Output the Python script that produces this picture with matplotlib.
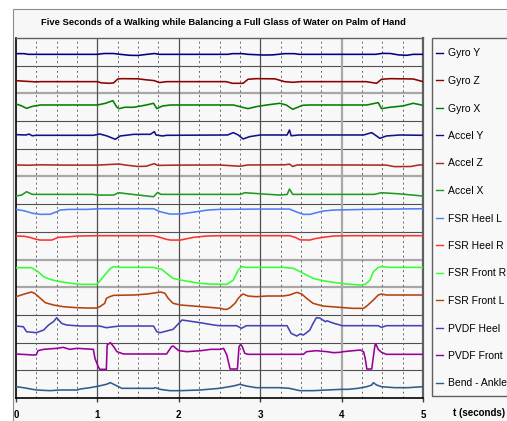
import matplotlib.pyplot as plt
from matplotlib.patches import Rectangle

W, H = 507, 421
plt.rcParams['font.family'] = ['Liberation Sans', 'DejaVu Sans']

title = "Five Seconds of a Walking while Balancing a Full Glass of Water on Palm of Hand"

names = ["Gyro Y", "Gyro Z", "Gyro X", "Accel Y", "Accel Z", "Accel X",
         "FSR Heel L", "FSR Heel R", "FSR Front R", "FSR Front L",
         "PVDF Heel", "PVDF Front", "Bend - Ankle"]
colors = ["#000080", "#8b0000", "#008000", "#10108a", "#a82a2a", "#1f9a1f",
          "#4f7ff5", "#ff3030", "#33ff33", "#b5420d",
          "#4343b8", "#990099", "#2c5d8f"]

# each trace: time (s) and level inside its band (0 = band bottom, 10 = band top)
gyro_y_t = [0, 0.1, 0.15, 1.0, 1.08, 1.2, 1.28, 1.4, 1.5, 1.58, 1.7, 1.76, 2.6, 2.66, 2.78, 2.85,
            3.04, 3.15, 3.22, 3.3, 3.42, 3.48, 4.42, 4.5, 4.6, 4.7, 4.8, 4.88, 5.0]
gyro_y_v = [4.35, 4.35, 4.1, 4.1, 4.4, 4.4, 4.1, 3.75, 3.7, 4.0, 4.4, 4.1, 4.1, 4.35, 4.35, 4.1,
            3.85, 3.9, 4.1, 4.35, 4.35, 4.1, 4.1, 4.45, 4.4, 3.9, 3.75, 4.1, 4.1]

gyro_z_t = [0, 0.1, 0.25, 0.3, 1.0, 1.05, 1.15, 1.2, 1.25, 1.3, 1.5, 1.6, 1.7, 1.76, 1.85,
            2.58, 2.66, 2.79, 2.85, 2.95, 3.18, 3.3, 3.4, 3.5, 4.3, 4.43, 4.49, 4.6, 4.88, 5.0]
gyro_z_v = [4.6, 4.4, 4.15, 4.24, 4.24, 3.8, 3.64, 3.8, 5.2, 5.32, 5.25, 4.9, 4.6, 3.9, 4.24,
            4.24, 3.64, 3.64, 5.1, 5.32, 5.25, 4.24, 4.0, 4.24, 4.24, 3.64, 5.1, 5.32, 5.2, 4.24]

gyro_x_t = [0, 0.06, 0.13, 0.2, 0.3, 1.0, 1.1, 1.19, 1.24, 1.27, 1.33, 1.45, 1.6, 1.69, 1.73, 1.8,
            1.9, 2.67, 2.75, 2.85, 2.95, 3.08, 3.24, 3.32, 3.4, 3.52, 3.6, 4.31, 4.45, 4.49,
            4.59, 4.75, 4.88, 5.0]
gyro_x_v = [6.18, 5.6, 4.6, 5.3, 5.81, 5.81, 6.42, 7.38, 4.97, 4.5, 4.97, 5.0, 5.81, 6.42, 4.5, 5.45,
            5.81, 5.81, 5.21, 4.49, 5.21, 5.81, 6.42, 5.8, 4.25, 5.7, 5.81, 5.81, 6.66, 4.49,
            4.97, 5.45, 6.42, 5.7]

accel_y_t = [0, 0.12, 0.16, 0.2, 0.25, 0.95, 1.03, 1.12, 1.22, 1.28, 1.45, 1.65, 1.70, 1.72, 1.8,
             1.85, 2.6, 2.67, 2.73, 2.79, 2.87, 3.0, 3.33, 3.36, 3.38, 3.48, 4.27, 4.37, 4.47,
             4.55, 4.72, 5.0]
accel_y_v = [5.1, 4.98, 5.3, 4.7, 4.86, 4.86, 5.34, 4.6, 3.42, 4.62, 5.22, 5.22, 6.19, 4.98, 4.62,
             4.86, 4.98, 5.83, 4.98, 3.54, 4.38, 4.98, 4.98, 6.79, 4.7, 4.98, 4.98, 5.83, 3.78,
             4.62, 4.98, 4.86]

accel_z_t = [0, 0.15, 0.3, 0.6, 1.0, 1.2, 1.26, 1.35, 1.5, 1.6, 1.7, 1.74, 2.0, 2.5, 2.75, 2.85,
             3.3, 3.36, 3.4, 3.45, 4.0, 4.55, 4.65, 4.85, 4.95, 5.0]
accel_z_v = [4.15, 4.05, 4.2, 4.1, 4.1, 4.4, 4.5, 4.1, 3.6, 3.7, 4.63, 4.0, 4.1, 4.15, 3.7, 4.15,
             4.2, 4.45, 3.6, 4.15, 4.15, 4.1, 3.55, 3.6, 4.15, 4.15]

accel_x_t = [0, 0.07, 0.13, 0.2, 0.95, 1.0, 1.2, 1.26, 1.36, 1.5, 1.69, 1.74, 1.78, 2.76, 2.81,
             3.07, 3.24, 3.33, 3.36, 3.4, 4.4, 4.49, 4.72, 5.0]
accel_x_v = [2.93, 3.3, 4.49, 3.53, 3.53, 3.29, 3.29, 4.13, 3.77, 3.3, 2.68, 4.25, 3.53, 3.53, 4.13,
             3.6, 3.29, 3.5, 5.45, 3.53, 3.53, 4.13, 3.7, 2.93]

heel_l_t = [0, 0.1, 0.21, 0.3, 0.42, 0.5, 0.54, 0.65, 0.87, 1.03, 1.69, 1.77, 1.89, 2.02, 2.22,
            2.35, 2.5, 3.0, 3.36, 3.45, 3.53, 3.61, 3.69, 3.77, 3.9, 4.3, 5.0]
heel_l_v = [8.11, 7.6, 6.67, 6.31, 6.35, 7.27, 7.87, 8.11, 8.11, 8.35, 8.35, 7.27, 6.43, 6.43, 7.27,
            7.87, 8.11, 8.23, 8.23, 7.15, 6.31, 6.31, 6.91, 7.51, 7.87, 8.11, 8.35]

heel_r_t = [0, 0.1, 0.17, 0.25, 0.3, 0.44, 0.52, 0.66, 0.75, 1.0, 1.69, 1.77, 1.85, 1.9, 2.02,
            2.18, 2.34, 2.5, 3.36, 3.43, 3.49, 3.61, 3.67, 3.77, 3.9, 4.1, 5.0]
heel_r_v = [8.49, 8.4, 8.01, 7.28, 7.04, 7.04, 8.01, 8.25, 8.49, 8.61, 8.61, 8.01, 7.28, 7.04, 7.04,
            8.01, 8.49, 8.61, 8.61, 8.01, 7.1, 7.04, 7.52, 8.01, 8.49, 8.61, 8.61]

front_r_t = [0, 0.19, 0.27, 0.34, 0.42, 0.5, 0.62, 0.75, 0.79, 0.99, 1.03, 1.09, 1.16, 1.2, 1.3,
             1.69, 1.73, 1.79, 1.85, 1.93, 2.02, 2.14, 2.26, 2.38, 2.59, 2.67, 2.73, 2.77, 2.83,
             3.28, 3.41, 3.49, 3.57, 3.65, 3.77, 3.9, 4.06, 4.23, 4.29, 4.35, 4.39, 4.45, 4.49,
             4.6, 5.0]
front_r_v = [7.05, 7.05, 5.61, 3.8, 2.84, 2.24, 1.64, 1.16, 1.04, 1.04, 2.24, 4.41, 6.81, 7.42, 7.17,
             7.17, 6.81, 6.45, 5.01, 3.2, 2.6, 2.0, 1.4, 1.16, 1.04, 2.6, 6.21, 7.42, 7.17,
             7.17, 6.81, 5.61, 4.41, 3.2, 2.36, 1.76, 1.16, 0.79, 1.04, 2.6, 5.61, 7.17, 7.42,
             7.17, 7.17]

front_l_t = [0, 0.13, 0.19, 0.23, 0.3, 0.36, 0.46, 0.58, 0.75, 0.87, 0.99, 1.03, 1.09, 1.11, 1.15,
             1.2, 1.45, 1.61, 1.78, 1.83, 1.87, 1.93, 2.02, 2.18, 2.43, 2.52, 2.55, 2.59, 2.63,
             2.69, 2.73, 2.77, 2.79, 2.85, 2.95, 3.08, 3.28, 3.36, 3.45, 3.51, 3.57, 3.65, 3.77,
             3.98, 4.14, 4.27, 4.31, 4.39, 4.45, 4.49, 4.55, 5.0]
front_l_v = [6.58, 7.79, 8.27, 7.79, 5.98, 4.42, 3.58, 2.97, 2.61, 2.49, 2.49, 2.97, 4.18, 5.98, 6.58,
             7.07, 7.19, 7.55, 8.27, 7.79, 5.98, 4.18, 3.58, 3.21, 2.61, 2.37, 2.01, 2.01, 2.61,
             4.18, 5.98, 7.19, 7.55, 6.83, 6.58, 6.83, 6.83, 7.19, 8.15, 7.55, 5.98, 4.18, 3.21,
             2.73, 2.37, 2.37, 3.21, 5.38, 7.19, 7.55, 7.19, 7.19]

pvdf_heel_t = [0, 0.09, 0.13, 0.25, 0.34, 0.4, 0.46, 0.5, 0.56, 0.62, 0.79, 1.03, 1.11, 1.2, 1.28,
               1.69, 1.73, 1.77, 1.85, 1.93, 2.0, 2.04, 2.18, 2.26, 2.43, 2.5, 2.71, 2.77, 2.83,
               3.33, 3.38, 3.45, 3.49, 3.53, 3.57, 3.61, 3.65, 3.69, 3.73, 3.77, 3.8, 3.82, 3.9,
               3.98, 4.0, 4.45, 4.49, 4.55, 5.0]
pvdf_heel_v = [5.99, 5.74, 3.94, 3.58, 4.55, 6.36, 7.56, 8.99, 6.96, 6.36, 5.99, 5.99, 5.38, 5.74, 5.99,
               5.99, 3.94, 3.58, 4.19, 4.79, 6.96, 8.16, 7.56, 7.2, 6.36, 6.11, 6.11, 5.16, 6.11,
               6.11, 3.34, 2.38, 3.11, 2.74, 3.58, 4.55, 6.96, 8.99, 8.9, 8.16, 7.55, 7.9, 7.0,
               6.36, 6.11, 6.11, 5.5, 6.11, 6.11]

pvdf_front_t = [0, 0.21, 0.25, 0.27, 0.34, 0.5, 0.58, 0.66, 0.75, 0.95, 0.97, 1.01, 1.03, 1.11,
                1.12, 1.16, 1.2, 1.24, 1.32, 1.85, 1.91, 1.93, 2.0, 2.1, 2.27, 2.39, 2.51, 2.55,
                2.59, 2.63, 2.72, 2.74, 2.76, 2.78, 2.81, 2.85, 3.53, 3.57, 3.69, 3.82, 3.9,
                3.98, 4.02, 4.23, 4.27, 4.29, 4.31, 4.37, 4.41, 4.42, 4.45, 4.49, 4.55, 5.0]
pvdf_front_v = [5.89, 5.53, 5.6, 7.09, 7.57, 7.93, 8.29, 7.57, 7.93, 7.57, 4.32, 1.31, 0.35, 0.35,
                9.14, 10.0, 8.53, 6.73, 5.89, 5.89, 8.53, 8.78, 7.09, 6.73, 7.09, 7.57, 7.57, 7.93,
                5.53, 0.47, 0.47, 8.53, 9.38, 8.53, 6.13, 5.77, 5.77, 6.73, 7.09, 6.73, 6.37,
                6.49, 6.73, 7.33, 6.73, 4.32, 0.47, 0.47, 9.14, 9.5, 7.57, 6.49, 5.77, 5.77]

bend_t = [0, 0.09, 0.25, 0.42, 0.54, 0.75, 0.79, 0.91, 1.02, 1.11, 1.16, 1.2, 1.26, 1.3, 1.69,
          1.71, 1.77, 1.89, 2.02, 2.26, 2.5, 2.67, 2.75, 2.83, 2.95, 3.24, 3.36, 3.45, 3.49,
          3.65, 3.82, 4.0, 4.08, 4.2, 4.31, 4.37, 4.39, 4.43, 4.49, 4.65, 4.82, 5.0]
bend_v = [4.09, 3.73, 2.89, 2.65, 2.89, 2.89, 3.25, 3.73, 4.33, 4.94, 5.54, 4.94, 4.09, 3.49, 3.49,
          3.73, 3.13, 2.65, 2.65, 2.89, 3.49, 4.33, 4.94, 4.33, 3.73, 3.73, 3.49, 2.89, 2.65,
          2.65, 2.89, 3.13, 3.13, 3.49, 4.09, 4.69, 5.54, 4.69, 4.09, 3.73, 3.73, 4.09]

series = [(gyro_y_t, gyro_y_v), (gyro_z_t, gyro_z_v), (gyro_x_t, gyro_x_v),
          (accel_y_t, accel_y_v), (accel_z_t, accel_z_v), (accel_x_t, accel_x_v),
          (heel_l_t, heel_l_v), (heel_r_t, heel_r_v), (front_r_t, front_r_v),
          (front_l_t, front_l_v), (pvdf_heel_t, pvdf_heel_v), (pvdf_front_t, pvdf_front_v),
          (bend_t, bend_v)]

fig = plt.figure(figsize=(W / 100, H / 100), dpi=100)
fig.patch.set_facecolor('white')

# chart area (runs off the right and bottom edge like the original)
fig.add_artist(Rectangle((13 / W, -0.5), 2, 1.5 - 9 / H, transform=fig.transFigure,
                         facecolor='#f7f7f7', edgecolor='#8c8c8c', lw=0.8, zorder=0))

ax = fig.add_axes([16 / W, 1 - 398 / H, 407 / W, 360 / H])
ax.set_facecolor('#f8f8f8')
ax.set_xlim(0, 5)
ax.set_ylim(0, 13)

n = len(series)
# horizontal band separators
for k in range(1, n):
    if k in (4, 5, 8, 11):
        ax.axhline(k, color='#a8a8a8', lw=1.6, zorder=1)
    else:
        ax.axhline(k, color='#505050', lw=0.8, zorder=1)
# vertical grid: solid each second, dotted every quarter
for q in range(1, 20):
    x = q / 4
    if q % 4 == 0:
        if x == 4:
            ax.axvline(x, color='#a8a8a8', lw=1.6, zorder=1)
        else:
            ax.axvline(x, color='#505050', lw=0.9, zorder=1)
    else:
        ax.axvline(x, color='#666666', lw=0.7, ls=(0, (2, 3)), zorder=1)

handles = []
for i, ((t, v), name, c) in enumerate(zip(series, names, colors)):
    base = n - 1 - i
    y = [base + val / 10 for val in v]
    ln, = ax.plot(t, y, color=c, lw=1.15, label=name, zorder=3)
    handles.append(ln)

for side in ['left', 'bottom']:
    ax.spines[side].set_color('black')
    ax.spines[side].set_linewidth(1.2)
ax.spines['top'].set_color('#606060')
ax.spines['top'].set_linewidth(1.0)
ax.spines['right'].set_color('#606060')
ax.spines['right'].set_linewidth(1.6)

ax.set_yticks([])
ax.set_xticks([0, 1, 2, 3, 4, 5])
ax.set_xticklabels(['0', '1', '2', '3', '4', '5'], fontsize=7, fontweight='bold')
ax.tick_params(axis='x', direction='out', length=3, width=1, color='#404040', pad=6)

fig.text(223 / W, 1 - 22.3 / H, title, ha='center', va='center', fontsize=6.72, fontweight='bold')
fig.text(453 / W, 1 - 413 / H, 't (seconds)', ha='left', va='center', fontsize=7, fontweight='bold')

# legend box
fig.add_artist(Rectangle((432 / W, 1 - 396 / H), 100 / W, (396 - 38.3) / H, transform=fig.transFigure,
                         facecolor='#f8f8f8', edgecolor='#606060', lw=1.0, zorder=1))
leg = fig.legend(handles, names, loc='upper left', bbox_to_anchor=(436 / W, 1 - 48.5 / H),
                 bbox_transform=fig.transFigure, frameon=False, fontsize=7.5,
                 handlelength=0.7, handletextpad=0.45, labelspacing=1.68,
                 borderpad=0, borderaxespad=0)
for h in leg.legend_handles:
    h.set_linewidth(1.0)

fig.savefig('out.png', dpi=100)
